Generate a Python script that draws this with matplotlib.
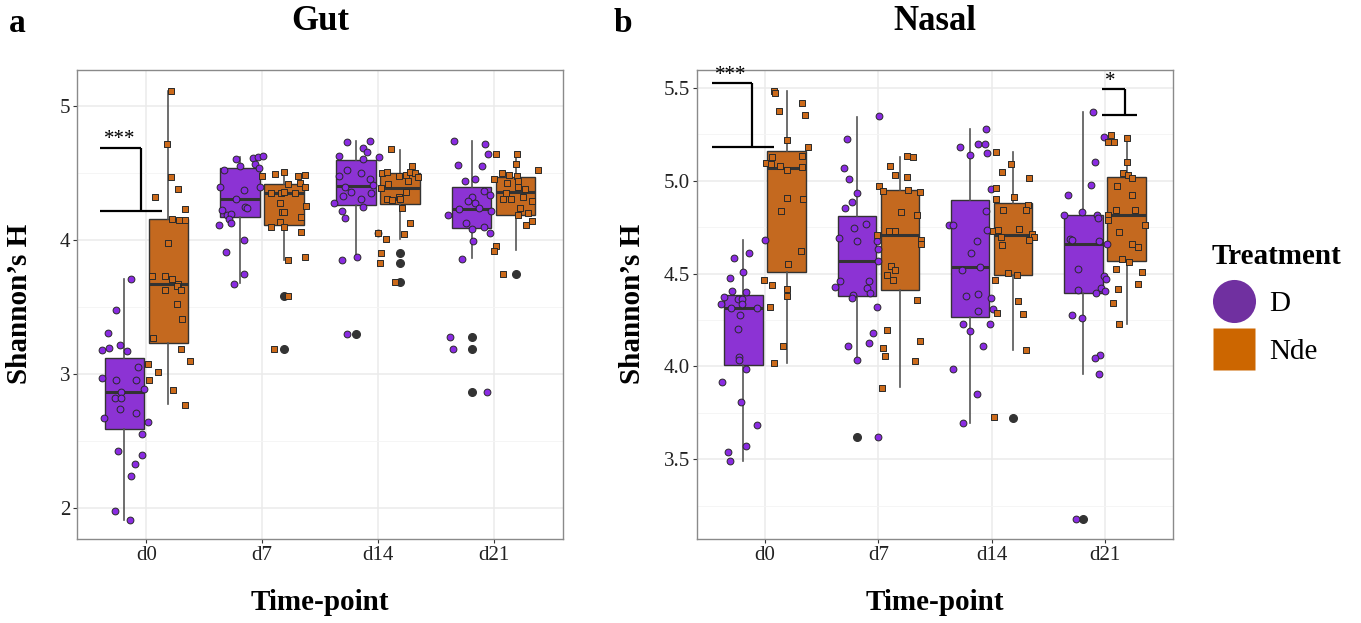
import matplotlib
matplotlib.use("Agg")
import matplotlib.pyplot as plt
from matplotlib.lines import Line2D
from matplotlib.ticker import AutoMinorLocator
import numpy as np

plt.rcParams["font.family"] = ["Liberation Serif", "DejaVu Serif"]

TIMEPOINTS = ["d0", "d7", "d14", "d21"]
TREATMENTS = ["D", "Nde"]

# box stats per time-point: [whisker low, q1, median, q3, whisker high]
GUT_D_BOX = [[1.91, 2.593, 2.87, 3.118, 3.71], [3.68, 4.17, 4.305, 4.54, 4.62],
             [3.875, 4.26, 4.405, 4.60, 4.74], [3.87, 4.09, 4.23, 4.40, 4.74]]
GUT_NDE_BOX = [[2.78, 3.23, 3.675, 4.155, 5.11], [3.855, 4.115, 4.35, 4.42, 4.505],
               [4.01, 4.27, 4.39, 4.50, 4.675], [3.925, 4.19, 4.36, 4.475, 4.66]]
GUT_D_OUT = [[], [], [3.30], [3.275, 3.185, 2.87]]
GUT_NDE_OUT = [[], [3.58, 3.19], [3.905, 3.83, 3.69], [3.75]]

NASAL_D_BOX = [[3.49, 4.01, 4.316, 4.386, 4.68], [4.03, 4.38, 4.566, 4.813, 5.345],
               [3.696, 4.264, 4.536, 4.894, 5.277], [3.958, 4.397, 4.658, 4.818, 5.369]]
NASAL_NDE_BOX = [[4.02, 4.509, 5.07, 5.16, 5.486], [3.888, 4.41, 4.71, 4.948, 5.13],
                 [4.09, 4.494, 4.71, 4.883, 5.153], [4.23, 4.566, 4.814, 5.023, 5.243]]
NASAL_D_OUT = [[], [3.622], [], [3.18]]
NASAL_NDE_OUT = [[], [], [3.724], []]

# jittered samples: (Shannon's H, horizontal jitter)
GUT_D_PTS = [
    [(3.713, 0.06), (3.48, -0.07), (3.305, -0.14), (3.18, -0.19), (3.195, -0.13), (3.22, -0.04),
     (3.175, 0.02), (3.055, 0.12), (2.975, -0.19), (2.96, -0.07), (2.96, 0.10), (2.87, -0.03),
     (2.89, 0.17), (2.82, -0.08), (2.82, -0.03), (2.74, -0.04), (2.71, 0.10), (2.67, -0.18),
     (2.64, 0.20), (2.55, 0.15), (2.43, -0.06), (2.40, 0.15), (2.33, 0.09), (2.24, 0.06),
     (1.98, -0.08), (1.91, 0.05)],
    [(4.605, -0.04), (4.615, 0.11), (4.62, 0.155), (4.625, 0.2), (4.525, -0.14), (4.555, 0),
     (4.57, 0.13), (4.54, 0.16), (4.395, -0.175), (4.375, 0.03), (4.395, 0.175), (4.305, -0.04),
     (4.25, 0.04), (4.24, 0.055), (4.225, -0.16), (4.19, -0.11), (4.195, -0.075), (4.16, -0.10),
     (4.13, -0.075), (4.11, -0.18), (4.0, 0.03), (3.91, -0.12), (3.75, 0.03), (3.675, -0.055)],
    [(4.73, -0.08), (4.74, 0.12), (4.69, 0.06), (4.66, 0.095), (4.625, -0.15), (4.605, 0.06),
     (4.62, 0.2), (4.525, -0.075), (4.505, 0.04), (4.48, -0.15), (4.455, 0.12), (4.40, -0.09),
     (4.41, 0.15), (4.36, -0.04), (4.35, 0.13), (4.33, -0.11), (4.305, 0.04), (4.275, -0.19),
     (4.25, 0.06), (4.22, -0.12), (4.165, -0.09), (4.055, 0.19), (3.855, -0.12), (3.875, 0.01),
     (3.30, -0.075)],
    [(4.74, -0.15), (4.72, 0.12), (4.64, 0.145), (4.56, -0.12), (4.555, 0.09), (4.44, -0.06),
     (4.455, 0.03), (4.37, 0.11), (4.34, 0.16), (4.325, 0), (4.29, -0.035), (4.28, 0.03),
     (4.24, 0.065), (4.23, -0.105), (4.19, -0.20), (4.215, 0.17), (4.13, -0.05), (4.10, 0.11),
     (4.08, 0), (4.05, 0.16), (3.995, 0.015), (3.86, -0.08), (3.275, -0.19), (3.185, -0.16),
     (2.87, 0.13)],
]
GUT_NDE_PTS = [
    [(5.11, 0.02), (4.72, -0.01), (4.47, 0.02), (4.38, 0.08), (4.32, -0.12), (4.235, 0.14),
     (4.155, 0.03), (4.15, 0.09), (4.15, 0.14), (3.98, 0), (3.73, -0.14), (3.73, -0.03),
     (3.71, 0.03), (3.67, 0.08), (3.655, 0.07), (3.625, 0.11), (3.625, -0.03), (3.52, 0.07),
     (3.41, 0.12), (3.27, -0.13), (3.19, 0.11), (3.10, 0.19), (3.075, -0.18), (3.02, -0.09),
     (2.955, -0.17), (2.88, 0.04), (2.77, 0.14)],
    [(4.48, -0.19), (4.495, -0.08), (4.51, 0), (4.48, 0.12), (4.49, 0.18), (4.35, -0.11),
     (4.35, -0.03), (4.36, 0), (4.42, 0.035), (4.35, 0.09), (4.43, 0.135), (4.40, 0.18),
     (4.275, -0.04), (4.21, -0.02), (4.21, 0), (4.255, 0.19), (4.17, 0.15), (4.135, -0.04),
     (4.095, -0.11), (4.095, 0), (4.06, 0.15), (3.855, 0.03), (3.875, 0.18), (3.58, 0.035),
     (3.19, -0.09)],
    [(4.68, -0.08), (4.505, -0.15), (4.51, -0.11), (4.48, -0.01), (4.49, 0.055), (4.55, 0.105),
     (4.51, 0.09), (4.50, 0.13), (4.475, 0.16), (4.445, 0.07), (4.39, -0.165), (4.42, -0.10),
     (4.36, 0.05), (4.325, -0.01), (4.31, 0), (4.305, -0.11), (4.30, -0.07), (4.24, 0.02),
     (4.125, 0.09), (4.01, -0.12), (4.045, 0.035), (4.055, -0.19), (3.905, -0.165),
     (3.83, -0.175), (3.69, -0.04)],
    [(4.64, -0.165), (4.64, 0.015), (4.57, 0), (4.525, 0.19), (4.505, -0.12), (4.49, -0.06),
     (4.46, -0.185), (4.48, 0.01), (4.44, 0.02), (4.425, -0.07), (4.40, 0.025), (4.38, 0.085),
     (4.355, -0.08), (4.305, -0.11), (4.31, -0.04), (4.325, 0.06), (4.29, 0.14), (4.24, 0.04),
     (4.20, 0.11), (4.19, 0.02), (4.14, 0.14), (4.11, 0.09), (3.955, -0.17), (3.92, -0.19),
     (3.75, -0.11)],
]
NASAL_D_PTS = [
    [(4.683, 0.19), (4.613, 0.05), (4.586, -0.08), (4.509, 0), (4.478, -0.12), (4.406, -0.10),
     (4.40, 0.02), (4.374, -0.17), (4.365, -0.05), (4.361, -0.01), (4.334, -0.01), (4.334, -0.195),
     (4.315, -0.11), (4.315, 0.12), (4.275, -0.03), (4.203, -0.05), (4.05, -0.04), (4.036, -0.04),
     (3.987, 0.02), (3.915, -0.19), (3.81, -0.025), (3.685, 0.12), (3.57, 0.02), (3.54, -0.14),
     (3.49, -0.12)],
    [(5.35, 0.195), (5.225, -0.09), (5.07, -0.11), (5.01, -0.07), (4.933, 0), (4.887, -0.04),
     (4.854, -0.10), (4.748, -0.025), (4.766, 0.08), (4.674, 0), (4.694, -0.16), (4.676, 0.18),
     (4.63, 0.19), (4.568, 0.19), (4.46, -0.15), (4.428, -0.19), (4.459, 0.11), (4.423, 0.09),
     (4.396, 0.12), (4.383, -0.03), (4.37, -0.04), (4.318, 0.175), (4.18, 0.14), (4.126, 0.11),
     (4.11, -0.08), (4.034, 0), (3.622, 0.19)],
    [(5.277, 0.14), (5.183, -0.09), (5.20, 0.065), (5.20, 0.13), (5.15, 0.145), (5.137, 0),
     (4.955, 0.18), (4.836, 0.14), (4.764, -0.185), (4.764, -0.15), (4.737, 0.145), (4.678, 0.06),
     (4.613, 0.01), (4.52, -0.075), (4.536, 0.09), (4.38, -0.04), (4.392, 0.065), (4.367, 0.18),
     (4.307, 0.2), (4.296, 0.065), (4.228, -0.065), (4.228, 0.175), (4.189, 0), (4.108, 0.115),
     (3.987, -0.15), (3.849, 0.06), (3.695, -0.06)],
    [(5.372, 0.08), (5.234, 0.185), (5.10, 0.10), (4.98, 0.07), (4.926, -0.135), (4.815, -0.17),
     (4.833, -0.015), (4.815, 0.115), (4.797, 0.125), (4.689, -0.115), (4.68, -0.105),
     (4.674, 0.135), (4.658, 0.21), (4.527, -0.045), (4.486, 0.185), (4.47, 0.195), (4.42, 0.155),
     (4.406, 0.19), (4.396, 0.11), (4.41, -0.045), (4.275, -0.105), (4.262, -0.01), (4.063, 0.145),
     (4.045, 0.10), (3.957, 0.135), (3.18, -0.065)],
]
NASAL_NDE_PTS = [
    [(5.486, -0.115), (5.475, -0.10), (5.417, 0.135), (5.354, 0.16), (5.378, -0.065), (5.22, 0),
     (5.18, 0.185), (5.126, -0.13), (5.135, 0.135), (5.097, -0.18), (5.088, -0.14), (5.08, -0.06),
     (5.06, 0), (5.072, 0.135), (4.905, 0), (4.90, 0.145), (4.836, -0.045), (4.622, 0.13),
     (4.554, 0.015), (4.468, -0.2), (4.44, -0.13), (4.415, 0), (4.38, 0), (4.32, -0.15),
     (4.11, -0.03), (4.02, -0.11)],
    [(5.135, 0.065), (5.126, 0.115), (5.08, -0.09), (5.03, -0.04), (5.018, 0.06), (4.973, -0.185),
     (4.944, -0.15), (4.953, 0.07), (4.94, 0.175), (4.833, 0.01), (4.815, 0.15), (4.728, -0.095),
     (4.728, -0.045), (4.71, -0.2), (4.68, 0.185), (4.658, 0.185), (4.54, -0.08), (4.518, -0.04),
     (4.494, -0.11), (4.464, -0.06), (4.36, 0.15), (4.198, -0.11), (4.135, 0.175), (4.10, -0.145),
     (4.056, -0.135), (4.03, 0.13), (3.886, -0.16)],
    [(5.157, -0.15), (5.09, -0.02), (5.045, -0.095), (5.016, 0.14), (4.959, -0.15), (4.912, 0.01),
     (4.90, -0.15), (4.869, 0.13), (4.842, -0.09), (4.842, 0.115), (4.728, -0.18), (4.734, -0.135),
     (4.739, 0.055), (4.698, -0.11), (4.712, 0.165), (4.698, 0.185), (4.683, 0.14), (4.653, -0.095),
     (4.503, -0.05), (4.494, 0.03), (4.464, -0.16), (4.35, 0.045), (4.288, -0.145), (4.28, 0.09),
     (4.09, 0.11), (3.725, -0.17)],
    [(5.247, -0.14), (5.207, -0.16), (5.207, -0.115), (5.232, 0), (5.10, 0), (5.04, -0.03),
     (5.03, 0.015), (5.013, 0.045), (4.973, -0.08), (4.923, 0.045), (4.845, 0.075), (4.842, -0.09),
     (4.815, -0.16), (4.788, -0.16), (4.764, 0.165), (4.725, -0.065), (4.662, 0.05), (4.644, 0.10),
     (4.58, -0.04), (4.56, 0.02), (4.525, -0.09), (4.509, 0.135), (4.446, 0.10), (4.415, -0.075),
     (4.342, -0.12), (4.228, -0.065)],
]

PURPLE_BOX = "#8C33D4"
ORANGE_BOX = "#C4691F"
PURPLE_PT = "#8A2BE2"
ORANGE_PT = "#CC6A1A"
DARK = "#333333"

W, H = 1361, 623
fig = plt.figure(figsize=(W / 100, H / 100), dpi=100)


def px_axes(l, t, r, b):
    return fig.add_axes([l / W, 1 - b / H, (r - l) / W, (b - t) / H])


def draw_group(ax, box, out, pts, offset, box_color, pt_color, marker, size):
    stats = [dict(whislo=b[0], q1=b[1], med=b[2], q3=b[3], whishi=b[4], fliers=o)
             for b, o in zip(box, out)]
    pos = np.arange(1, len(TIMEPOINTS) + 1) + offset
    ax.bxp(stats, positions=pos, widths=0.34, patch_artist=True, showcaps=False,
           boxprops=dict(facecolor=box_color, edgecolor=DARK, linewidth=1.0),
           medianprops=dict(color=DARK, linewidth=2.2),
           whiskerprops=dict(color="#555555", linewidth=1.2),
           flierprops=dict(marker="o", markerfacecolor=DARK, markeredgecolor=DARK,
                           markersize=5.5),
           zorder=2)
    for i, group in enumerate(pts):
        ys = [p[0] for p in group]
        xs = [pos[i] + p[1] for p in group]
        ax.scatter(xs, ys, s=size, marker=marker, c=pt_color, edgecolors="#2a2a2a",
                   linewidths=0.7, zorder=4)


def style_axes(ax, yticks, ylim, fmt):
    ax.set_xlim(0.4, 4.6)
    ax.set_ylim(*ylim)
    ax.set_xticks(range(1, 5))
    ax.set_xticklabels(TIMEPOINTS)
    ax.set_yticks(yticks)
    ax.set_yticklabels([fmt.format(v) for v in yticks])
    ax.yaxis.set_minor_locator(AutoMinorLocator(2))
    ax.grid(True, which="major", color="#EBEBEB", linewidth=1.1)
    ax.grid(True, which="minor", axis="y", color="#F4F4F4", linewidth=0.6)
    ax.set_axisbelow(True)
    ax.tick_params(which="major", length=3, width=0.8, color=DARK, labelsize=15,
                   labelcolor="#222222", pad=2)
    ax.tick_params(which="minor", length=0)
    for s in ax.spines.values():
        s.set_color("#8a8a8a")
        s.set_linewidth(1.0)


def bracket(ax, x0, x1, x2, ytop, ybot, label, xl, yl):
    kw = dict(color="black", linewidth=1.6, clip_on=False, zorder=5, solid_capstyle="butt")
    ax.plot([x0, x1], [ytop, ytop], **kw)
    ax.plot([x1, x1], [ytop, ybot], **kw)
    ax.plot([x0, x2], [ybot, ybot], **kw)
    ax.text(xl, yl, label, ha="center", va="center", fontsize=15, zorder=6)


# Panel a: gut
ax1 = px_axes(77, 70, 563, 539)
draw_group(ax1, GUT_D_BOX, GUT_D_OUT, GUT_D_PTS, -0.19, PURPLE_BOX, PURPLE_PT, "o", 24)
draw_group(ax1, GUT_NDE_BOX, GUT_NDE_OUT, GUT_NDE_PTS, 0.19, ORANGE_BOX, ORANGE_PT, "s", 18)
style_axes(ax1, [2, 3, 4, 5], (1.77, 5.27), "{:g}")
bracket(ax1, 0.603, 0.951, 1.138, 4.69, 4.215, "***", 0.77, 4.75)

# Panel b: nasal
ax2 = px_axes(697, 70, 1173, 539)
draw_group(ax2, NASAL_D_BOX, NASAL_D_OUT, NASAL_D_PTS, -0.19, PURPLE_BOX, PURPLE_PT, "o", 24)
draw_group(ax2, NASAL_NDE_BOX, NASAL_NDE_OUT, NASAL_NDE_PTS, 0.19, ORANGE_BOX, ORANGE_PT, "s", 18)
style_axes(ax2, [3.5, 4.0, 4.5, 5.0, 5.5], (3.07, 5.597), "{:.1f}")
bracket(ax2, 0.528, 0.888, 1.08, 5.525, 5.183, "***", 0.70, 5.565)
bracket(ax2, 3.97, 4.177, 4.285, 5.494, 5.354, "*", 4.05, 5.535)

# titles, panel letters, axis labels
for cx, title in [(320, "Gut"), (935, "Nasal")]:
    fig.text(cx / W, 1 - 22 / H, title, ha="center", va="center", fontsize=25,
             fontweight="bold")
fig.text(17 / W, 1 - 23 / H, "a", ha="center", va="center", fontsize=24, fontweight="bold")
fig.text(623 / W, 1 - 23 / H, "b", ha="center", va="center", fontsize=24, fontweight="bold")
for cx in [320, 935]:
    fig.text(cx / W, 1 - 603 / H, "Time-point", ha="center", va="center", fontsize=21,
             fontweight="bold")
for cx in [20, 632]:
    fig.text(cx / W, 1 - 304 / H, "Shannon\u2019s H", ha="center", va="center", fontsize=21,
             fontweight="bold", rotation=90)

# legend
handles = [
    Line2D([], [], ls="", marker="o", markersize=31, markerfacecolor="#7030A0",
           markeredgecolor="none"),
    Line2D([], [], ls="", marker="s", markersize=30, markerfacecolor="#CC6600",
           markeredgecolor="none"),
]
fig.legend(handles, TREATMENTS, title="Treatment", loc="upper left",
           bbox_to_anchor=(1212 / W, 1 - 243 / H), frameon=False, fontsize=21,
           title_fontproperties=dict(size=21, weight="bold"), alignment="left",
           handlelength=1.5, handletextpad=0.45, labelspacing=0.72, borderpad=0,
           borderaxespad=0)

fig.savefig("out.png", dpi=100, facecolor="white")
